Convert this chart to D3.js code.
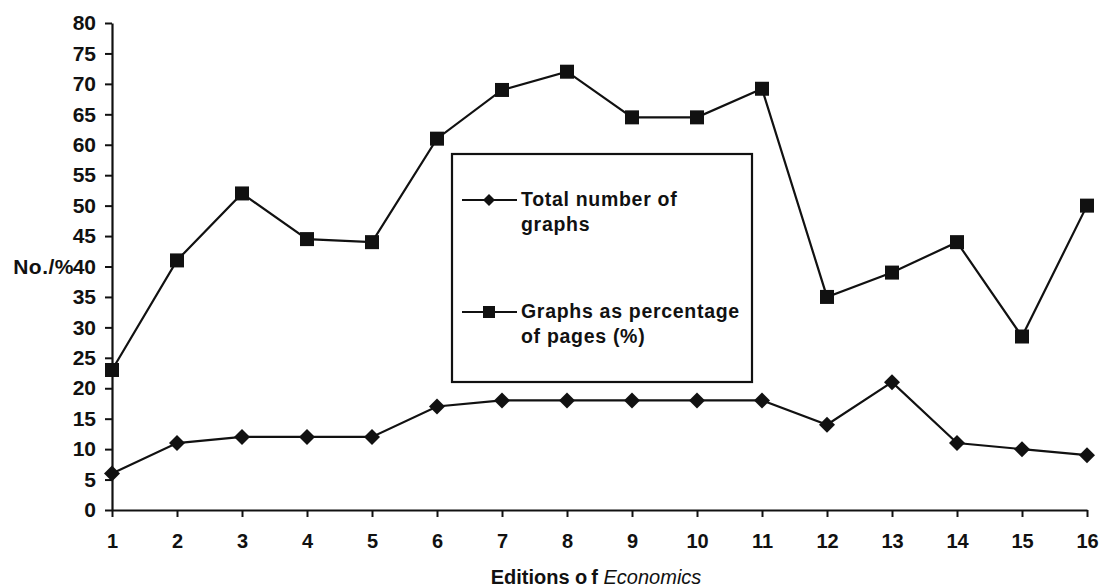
<!DOCTYPE html>
<html>
<head>
<meta charset="utf-8">
<script src="https://cdn.jsdelivr.net/npm/d3@7"></script>
<style>
  html, body { margin: 0; padding: 0; background: #fff; }
  svg { display: block; }
  text { font-family: "Liberation Sans", Arial, Helvetica, sans-serif; fill: #111; }
</style>
</head>
<body>
<svg id="chart" width="1101" height="587"></svg>
<script>
// Editions of Economics: graph counts and graphs as share of pages
const editions = [1, 2, 3, 4, 5, 6, 7, 8, 9, 10, 11, 12, 13, 14, 15, 16];
const totalGraphs = [6, 11, 12, 12, 12, 17, 18, 18, 18, 18, 18, 14, 21, 11, 10, 9];
const graphsPctPages = [23, 41, 52, 44.5, 44, 61, 69, 72, 64.5, 64.5, 69.2, 35, 39, 44, 28.5, 50];
const yTicks = [0, 5, 10, 15, 20, 25, 30, 35, 40, 45, 50, 55, 60, 65, 70, 75, 80];
const seriesNames = ["Total number of|graphs", "Graphs as percentage|of pages (%)"];

const svg = d3.select("#chart");
const ink = "#111";
const fontFam = "Liberation Sans, Arial, sans-serif";

const x = d3.scaleLinear().domain([1, 16]).range([112, 1087]);
const y = d3.scaleLinear().domain([0, 80]).range([510, 23]);

// y axis
const yAxis = svg.append("g")
  .attr("transform", `translate(${x(1)},0)`)
  .call(d3.axisLeft(y).tickValues(yTicks).tickSize(7).tickPadding(9).tickSizeOuter(0));
yAxis.select(".domain").attr("stroke", ink).attr("stroke-width", 2.2);
yAxis.selectAll(".tick line").attr("stroke", ink).attr("stroke-width", 2);
yAxis.selectAll(".tick text")
  .attr("font-size", 21).attr("font-weight", "bold").attr("fill", ink)
  .attr("font-family", fontFam);

// x axis
const xAxis = svg.append("g")
  .attr("transform", `translate(0,${y(0)})`)
  .call(d3.axisBottom(x).tickValues(editions).tickFormat(d3.format("d")).tickSize(7).tickPadding(17).tickSizeOuter(0));
xAxis.select(".domain").attr("stroke", ink).attr("stroke-width", 2.2);
xAxis.selectAll(".tick line").attr("stroke", ink).attr("stroke-width", 2);
xAxis.selectAll(".tick text")
  .attr("font-size", 20).attr("font-weight", "bold").attr("fill", ink)
  .attr("font-family", fontFam);

// y axis title, butted against the 40 label
svg.append("text")
  .attr("x", 74).attr("y", y(40)).attr("dy", "0.35em")
  .attr("text-anchor", "end")
  .attr("font-size", 21).attr("font-weight", "bold").attr("letter-spacing", 0.5)
  .text("No./%");

// x axis title
const xt = svg.append("text")
  .attr("x", 596).attr("y", 584)
  .attr("text-anchor", "middle")
  .attr("font-size", 20);
xt.append("tspan").attr("font-weight", "bold").text("Editions o");
xt.append("tspan").attr("font-weight", "bold").attr("dx", 4).text("f ");
xt.append("tspan").attr("font-style", "italic").text("Economics");

const line = d3.line().x((d, i) => x(editions[i])).y(d => y(d));

// percentage series with squares
svg.append("path").datum(graphsPctPages)
  .attr("d", line).attr("fill", "none").attr("stroke", ink).attr("stroke-width", 2.2);
svg.append("g").selectAll("rect").data(graphsPctPages).join("rect")
  .attr("x", (d, i) => x(editions[i]) - 7).attr("y", d => y(d) - 7)
  .attr("width", 14).attr("height", 14).attr("fill", ink);

// total graphs series with diamonds
svg.append("path").datum(totalGraphs)
  .attr("d", line).attr("fill", "none").attr("stroke", ink).attr("stroke-width", 2.2);
const diamond = (cx, cy, r) => `M${cx},${cy - r}L${cx + r},${cy}L${cx},${cy + r}L${cx - r},${cy}Z`;
svg.append("g").selectAll("path").data(totalGraphs).join("path")
  .attr("d", (d, i) => diamond(x(editions[i]), y(d), 8)).attr("fill", ink);

// legend
const lg = svg.append("g");
lg.append("rect").attr("x", 452).attr("y", 154).attr("width", 300).attr("height", 228)
  .attr("fill", "#fff").attr("stroke", ink).attr("stroke-width", 2.2);
const legendRows = [{ cy: 200, kind: "diamond" }, { cy: 312, kind: "square" }];
legendRows.forEach((r, i) => {
  lg.append("line").attr("x1", 462).attr("x2", 517).attr("y1", r.cy).attr("y2", r.cy)
    .attr("stroke", ink).attr("stroke-width", 2.2);
  if (r.kind === "diamond") {
    lg.append("path").attr("d", diamond(489, r.cy, 6)).attr("fill", ink);
  } else {
    lg.append("rect").attr("x", 483).attr("y", r.cy - 6).attr("width", 12).attr("height", 12).attr("fill", ink);
  }
  const lines = seriesNames[i].split("|");
  const t = lg.append("text").attr("x", 521).attr("y", r.cy + 6)
    .attr("font-size", 19.5).attr("font-weight", "bold").attr("letter-spacing", 0.7);
  lines.forEach((s, k) => t.append("tspan").attr("x", 521).attr("dy", k === 0 ? 0 : 25).text(s));
});
</script>
</body>
</html>
